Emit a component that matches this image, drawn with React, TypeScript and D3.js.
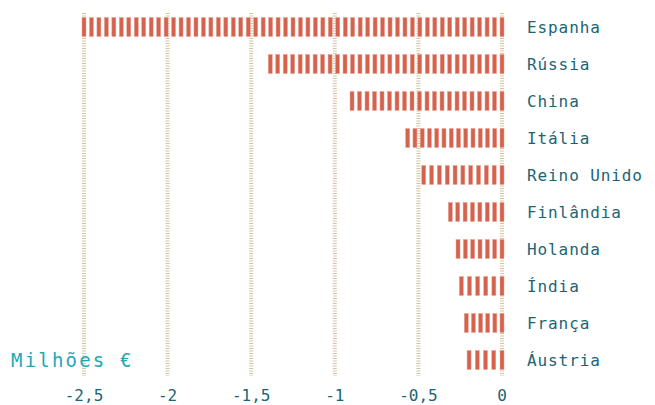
import React from "react";
import * as d3 from "d3";

const categories = ["Espanha", "Rússia", "China", "Itália", "Reino Unido", "Finlândia", "Holanda", "Índia", "França", "Áustria"];
const values = [-2.5, -1.386, -0.897, -0.564, -0.468, -0.309, -0.263, -0.243, -0.2135, -0.197];
const ticks = [-2.5, -2, -1.5, -1, -0.5, 0];
const tickLabels = ["-2,5", "-2", "-1,5", "-1", "-0,5", "0"];
const unitLabel = "Milhões €";

const W = 655;
const H = 405;
const FONT = "'DejaVu Sans Mono', monospace";

export default function App() {
  const x = d3.scaleLinear().domain([-2.5, 0]).range([84, 502]);
  const y = d3.scalePoint<string>().domain(categories).range([27, 360]);
  const barH = 19;
  const dashW = 4;
  const x0 = x(0);

  return (
    <svg width={W} height={H} style={{ position: "absolute", left: 0, top: 0, background: "#fff" }}>
      <g>
        {ticks.map((t, i) => (
          <line
            key={"g" + i}
            x1={x(t)}
            x2={x(t)}
            y1={13}
            y2={376}
            stroke="#c8b082"
            strokeOpacity={0.75}
            strokeWidth={4}
            strokeDasharray="1,1.5"
          />
        ))}
      </g>
      <g>
        {categories.map((c, i) => {
          const xv = x(values[i]);
          const L = x0 - xv;
          const n = Math.round(L / 7.5) + 1;
          const step = L / (n - 1);
          const cy = y(c) as number;
          return (
            <g key={c}>
              {d3.range(n).map((k) => (
                <rect
                  key={k}
                  x={xv + k * step - dashW / 2}
                  y={cy - barH / 2}
                  width={dashW}
                  height={barH}
                  fill="#d4624d"
                  stroke="#e9a293"
                  strokeWidth={0.5}
                />
              ))}
            </g>
          );
        })}
      </g>
      <g>
        {categories.map((c) => (
          <text
            key={"l" + c}
            x={527}
            y={(y(c) as number) + 5.5}
            fontFamily={FONT}
            fontSize={16}
            letterSpacing={0.9}
            fill="#1b6474"
          >
            {c}
          </text>
        ))}
      </g>
      <g>
        {ticks.map((t, i) => (
          <text
            key={"t" + i}
            x={x(t)}
            y={401}
            textAnchor="middle"
            fontFamily={FONT}
            fontSize={16}
            fill="#1b6474"
          >
            {tickLabels[i]}
          </text>
        ))}
      </g>
      <text x={11} y={367} fontFamily={FONT} fontSize={19} letterSpacing={2.2} fill="#1fa8b6">
        {unitLabel}
      </text>
    </svg>
  );
}
